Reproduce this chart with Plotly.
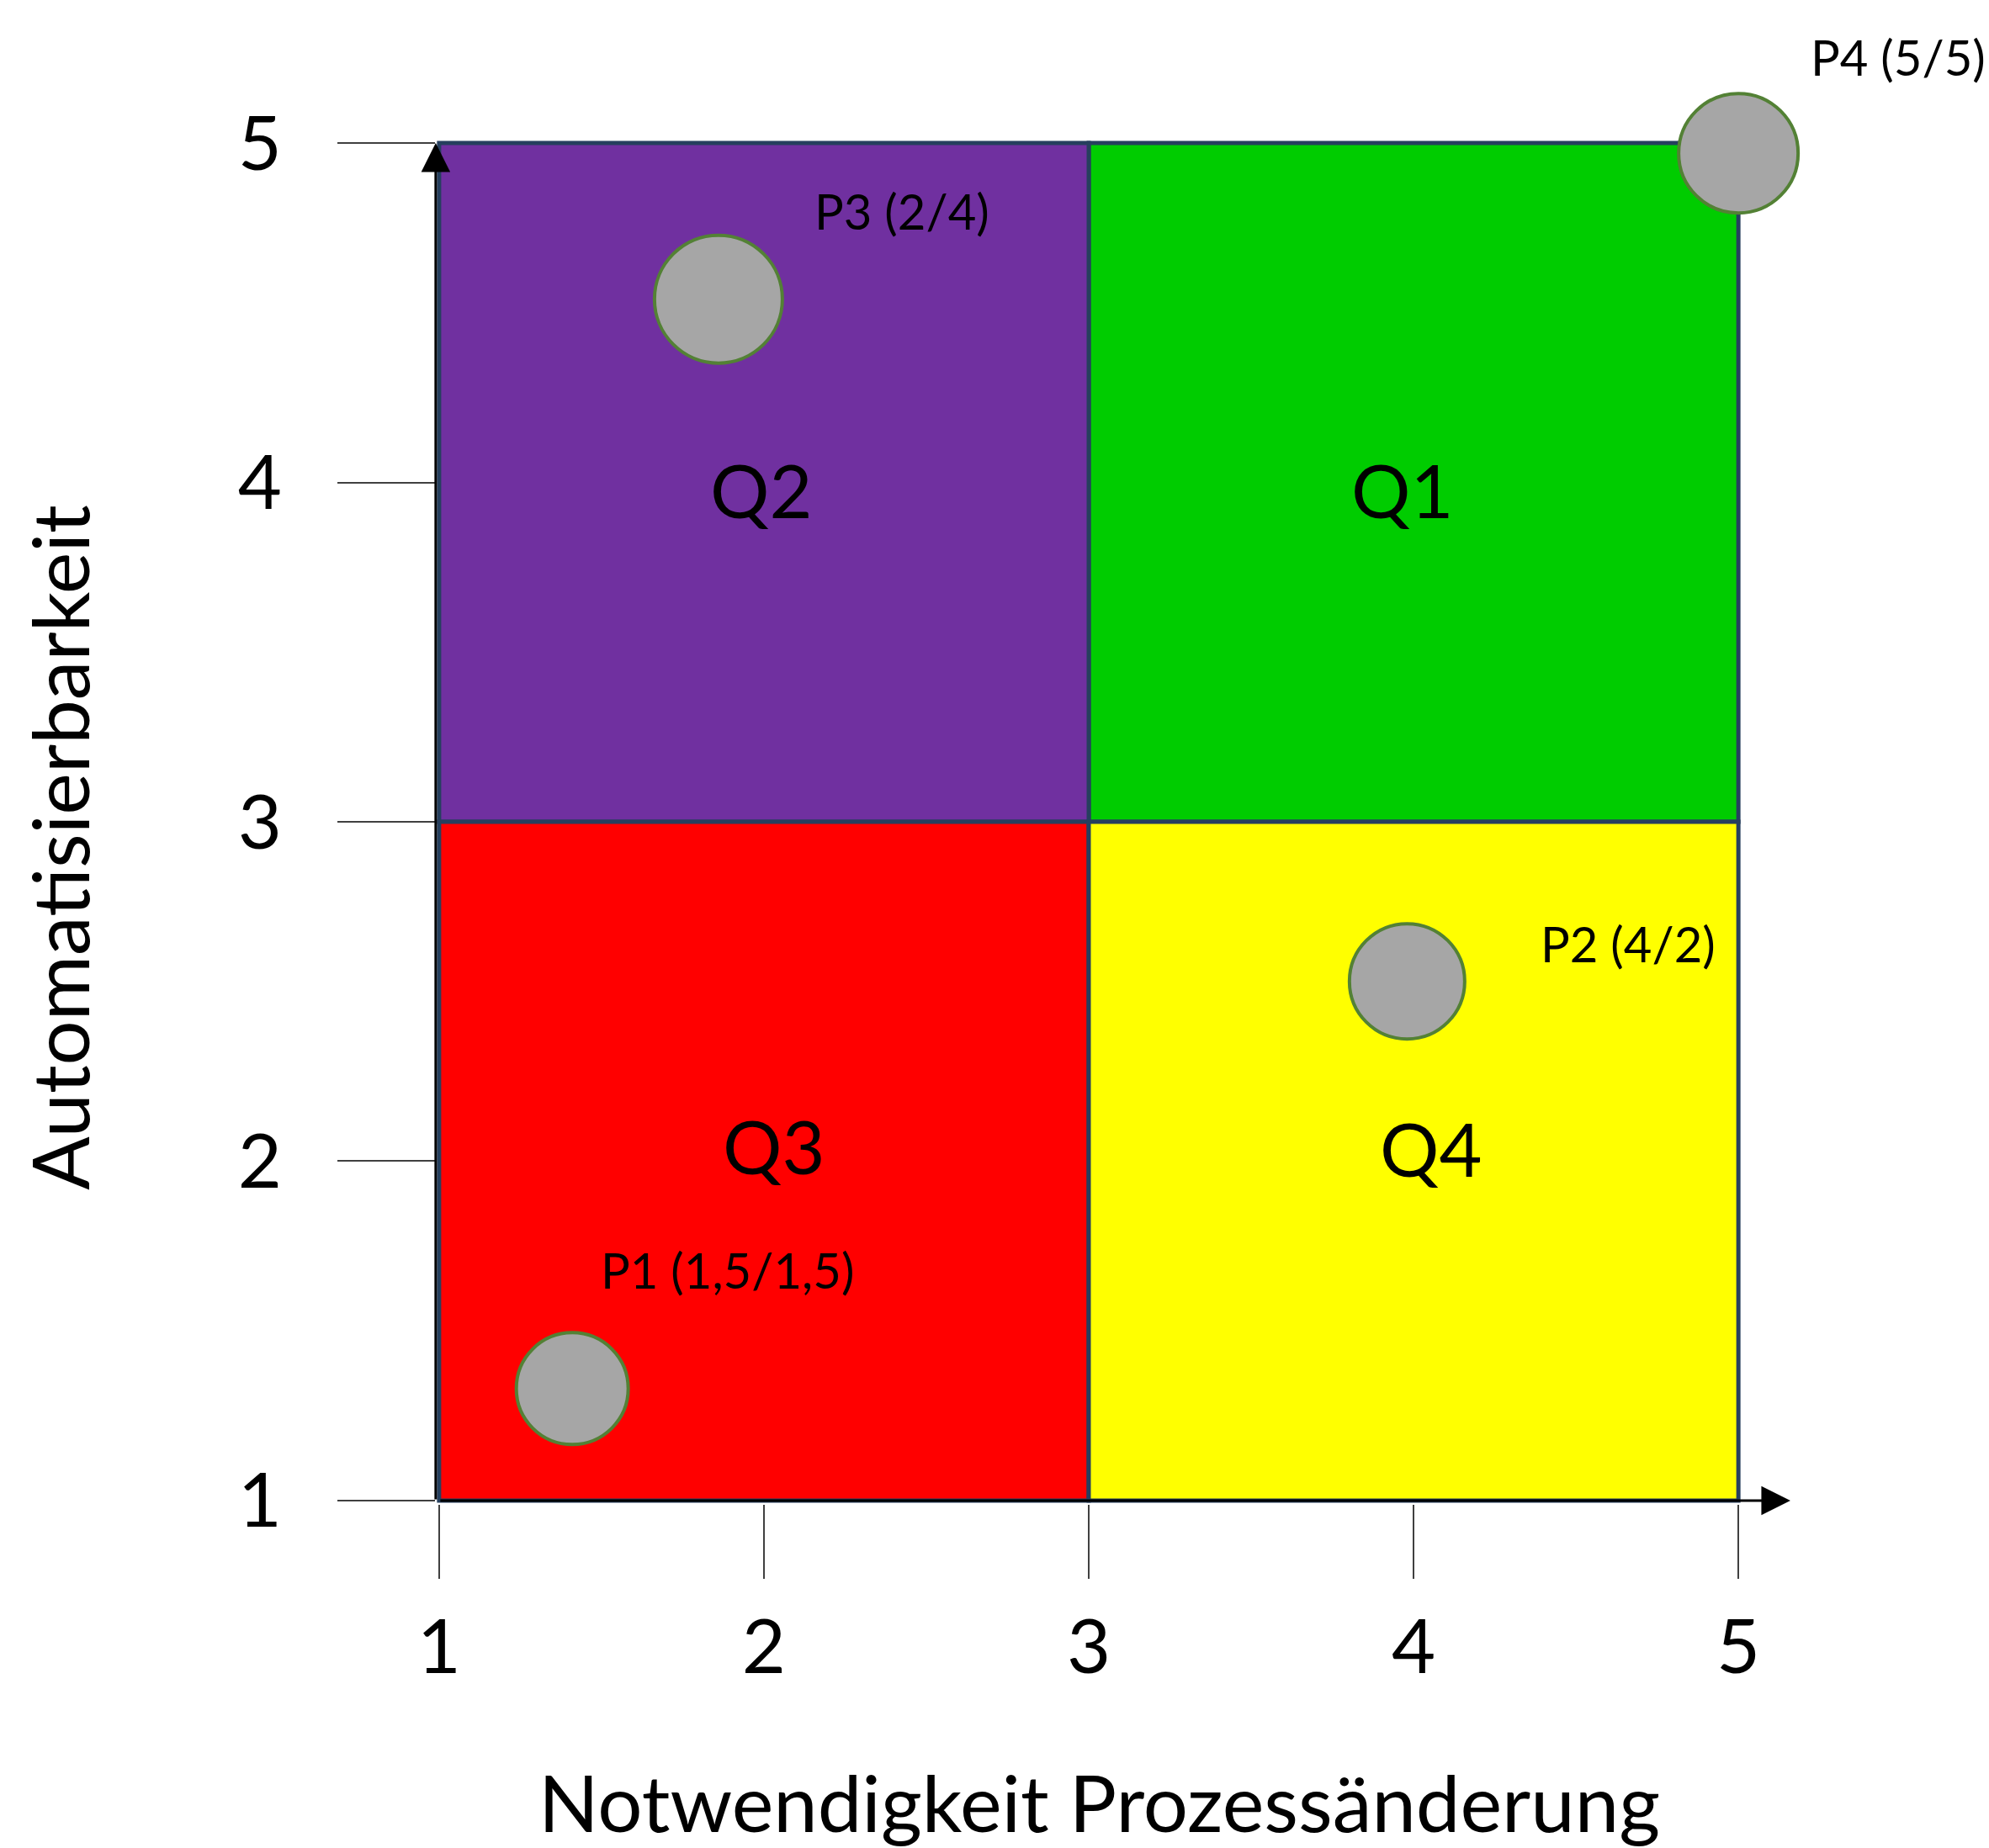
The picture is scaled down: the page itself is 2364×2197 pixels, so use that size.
import plotly.graph_objects as go

# ---------------- data ----------------
x_ticks = [1, 2, 3, 4, 5]
y_ticks = [1, 2, 3, 4, 5]

quadrants = ["Q1", "Q2", "Q3", "Q4"]
quad_x_from = [3, 1, 1, 3]
quad_x_to = [5, 3, 3, 5]
quad_y_from = [3, 3, 1, 1]
quad_y_to = [5, 5, 3, 3]

points = ["P1", "P2", "P3", "P4"]
point_labels = ["P1 (1,5/1,5)", "P2 (4/2)", "P3 (2/4)", "P4 (5/5)"]
point_x = [1.41, 3.98, 1.86, 5.0]
point_y = [1.33, 2.53, 4.54, 4.97]

x_title = "Notwendigkeit Prozessänderung"
y_title = "Automatisierbarkeit"

# ---------------- styles ----------------
FONT = "Lato, Carlito, 'Open Sans', sans-serif"
quad_colors = ["#00CC00", "#7030A0", "#FF0000", "#FFFF00"]
quad_border = "#263F5E"
quad_label_shift = [(-14, -8), (-3, -8), (12, 18), (20, 15)]
label_shift = [(184, 141), (263, 45), (218, 105), (190, 115)]
marker_sizes = [133, 137, 152, 142]

W, H = 2364, 2197
px_per_x = 386.0
px_per_y = 403.5
pad = 0.01

fig = go.Figure()

# quadrants
for q, x0, x1, y0, y1, c, (qdx, qdy) in zip(quadrants, quad_x_from, quad_x_to, quad_y_from,
                                             quad_y_to, quad_colors, quad_label_shift):
    fig.add_shape(type="rect", xref="x", yref="y", x0=x0, x1=x1, y0=y0, y1=y1,
                  fillcolor=c, line=dict(color=quad_border, width=5), layer="below")
    fig.add_annotation(x=(x0 + x1) / 2, y=(y0 + y1) / 2, xref="x", yref="y", text=q,
                       showarrow=False, xshift=qdx, yshift=qdy,
                       font=dict(family=FONT, size=88, color="black"))

# points
fig.add_trace(go.Scatter(
    x=point_x, y=point_y, mode="markers", cliponaxis=False, name="Prozesse",
    text=points,
    marker=dict(size=marker_sizes, color="#A6A6A6", opacity=1,
                line=dict(color="#538135", width=4)),
    showlegend=False,
))
for px_, py_, lab, (dx, dy) in zip(point_x, point_y, point_labels, label_shift):
    fig.add_annotation(x=px_, y=py_, xref="x", yref="y", text=lab, showarrow=False,
                       xshift=dx, yshift=dy, font=dict(family=FONT, size=58, color="black"))

# axis arrows
fig.add_annotation(x=5.16, y=1, ax=1, ay=1, xref="x", yref="y", axref="x", ayref="y",
                   text="", showarrow=True, arrowhead=2, arrowsize=2.3, arrowwidth=3,
                   arrowcolor="black", standoff=0)
fig.add_annotation(x=1, y=5, ax=1, ay=1, xref="x", yref="y", axref="x", ayref="y",
                   text="", showarrow=True, arrowhead=2, arrowsize=2.3, arrowwidth=3,
                   arrowcolor="black", standoff=0, xshift=-4)

# axis titles
fig.add_annotation(xref="paper", yref="paper", x=-0.2895, y=0.4814, text=y_title,
                   textangle=-90, showarrow=False, xanchor="center", yanchor="middle",
                   font=dict(family=FONT, size=94, color="black"))
fig.add_annotation(xref="paper", yref="paper", x=0.508, y=-0.182, text=x_title,
                   showarrow=False, xanchor="center", yanchor="top",
                   font=dict(family=FONT, size=94, color="black"))

ml = 522 - pad * px_per_x
mr = W - (2066 + pad * px_per_x)
mt = 170 - pad * px_per_y
mb = H - (1784 + pad * px_per_y)

fig.update_layout(
    width=W, height=H, autosize=False,
    margin=dict(l=ml, r=mr, t=mt, b=mb, pad=0),
    paper_bgcolor="white", plot_bgcolor="white",
    font=dict(family=FONT, color="black"),
)
fig.update_xaxes(range=[1 - pad, 5 + pad], tickvals=x_ticks, ticktext=[str(v) for v in x_ticks],
                 showgrid=False, zeroline=False, showline=False,
                 ticks="outside", ticklen=88, tickwidth=2, tickcolor="#404040",
                 ticklabelstandoff=4, tickfont=dict(family=FONT, size=90, color="black"))
fig.update_yaxes(range=[1 - pad, 5 + pad], tickvals=y_ticks, ticktext=[str(v) for v in y_ticks],
                 showgrid=False, zeroline=False, showline=False,
                 ticks="outside", ticklen=116, tickwidth=2, tickcolor="#404040",
                 ticklabelstandoff=48, tickfont=dict(family=FONT, size=90, color="black"))

fig.write_html("out.html", config={"displayModeBar": False},
               post_script="document.body.style.margin='0';document.body.style.overflow='hidden';")
